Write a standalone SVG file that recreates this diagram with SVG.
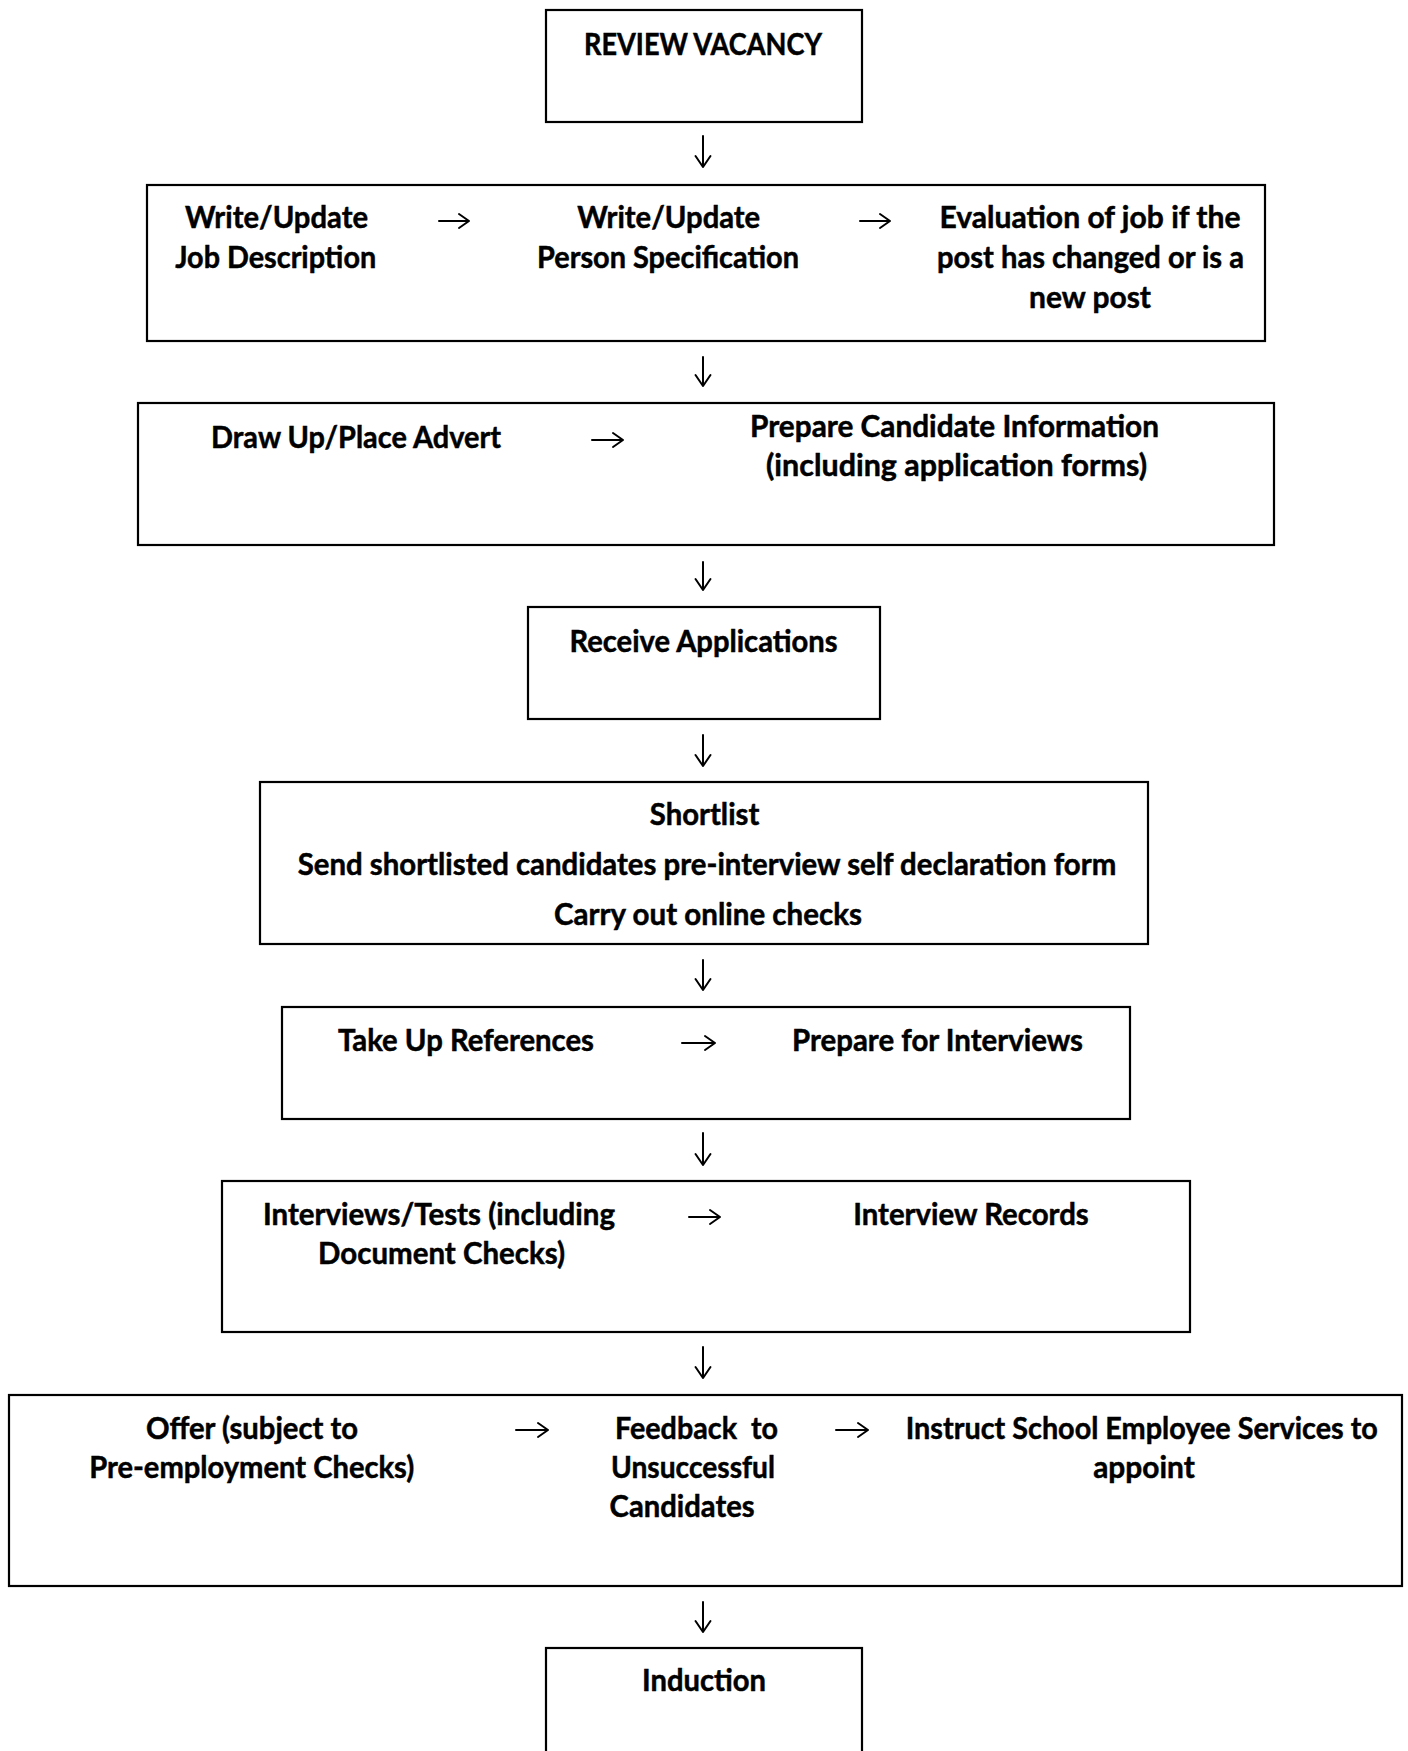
<svg xmlns="http://www.w3.org/2000/svg" width="1408" height="1751" viewBox="0 0 1408 1751">
<style>
.box{fill:#fff;stroke:#000;stroke-width:2.2}
.t{font-family:Lato,"Liberation Sans",sans-serif;font-weight:bold;font-size:31px;fill:#000;stroke:#000;stroke-width:0.5}
.c{text-anchor:middle}
.arr{fill:none;stroke:#000;stroke-width:2;stroke-linecap:round;stroke-linejoin:round}
</style>
<rect width="1408" height="1751" fill="#fff"/>
<g id="n1">
<rect class="box" x="546" y="10" width="316" height="112"/>
<text class="t c" x="703" y="55" textLength="238" lengthAdjust="spacingAndGlyphs">REVIEW VACANCY</text>
</g>
<g id="n2">
<rect class="box" x="147" y="185" width="1118" height="156"/>
<text class="t c" x="276.5" y="228.2" textLength="183" lengthAdjust="spacingAndGlyphs">Write/Update</text>
<text class="t c" x="275.7" y="268.4" textLength="201" lengthAdjust="spacingAndGlyphs">Job Description</text>
<text class="t c" x="668.7" y="228.2" textLength="183" lengthAdjust="spacingAndGlyphs">Write/Update</text>
<text class="t c" x="668" y="268.4" textLength="262" lengthAdjust="spacingAndGlyphs">Person Specification</text>
<text class="t c" x="1090" y="228.2" textLength="301" lengthAdjust="spacingAndGlyphs">Evaluation of job if the</text>
<text class="t c" x="1090.5" y="268.4" textLength="307" lengthAdjust="spacingAndGlyphs">post has changed or is a</text>
<text class="t c" x="1090" y="307.5" textLength="122" lengthAdjust="spacingAndGlyphs">new post</text>
</g>
<g id="n3">
<rect class="box" x="138" y="403" width="1136" height="142"/>
<text class="t c" x="356" y="448.1" textLength="290" lengthAdjust="spacingAndGlyphs">Draw Up/Place Advert</text>
<text class="t c" x="954.5" y="437" textLength="409" lengthAdjust="spacingAndGlyphs">Prepare Candidate Information</text>
<text class="t c" x="956.5" y="475.5" textLength="381" lengthAdjust="spacingAndGlyphs">(including application forms)</text>
</g>
<g id="n4">
<rect class="box" x="528" y="607" width="352" height="112"/>
<text class="t c" x="703.5" y="651.5" textLength="268" lengthAdjust="spacingAndGlyphs">Receive Applications</text>
</g>
<g id="n5">
<rect class="box" x="260" y="782" width="888" height="162"/>
<text class="t c" x="704.6" y="824.5" textLength="109.5" lengthAdjust="spacingAndGlyphs">Shortlist</text>
<text class="t c" x="707" y="874.5" textLength="818.5" lengthAdjust="spacingAndGlyphs">Send shortlisted candidates pre-interview self declaration form</text>
<text class="t c" x="708" y="924.9" textLength="308" lengthAdjust="spacingAndGlyphs">Carry out online checks</text>
</g>
<g id="n6">
<rect class="box" x="282" y="1007" width="848" height="112"/>
<text class="t c" x="466" y="1051.1" textLength="256" lengthAdjust="spacingAndGlyphs">Take Up References</text>
<text class="t c" x="937.5" y="1051.1" textLength="291" lengthAdjust="spacingAndGlyphs">Prepare for Interviews</text>
</g>
<g id="n7">
<rect class="box" x="222" y="1181" width="968" height="151"/>
<text class="t c" x="439" y="1225.3" textLength="352" lengthAdjust="spacingAndGlyphs">Interviews/Tests (including</text>
<text class="t c" x="441.6" y="1264.4" textLength="247" lengthAdjust="spacingAndGlyphs">Document Checks)</text>
<text class="t c" x="971" y="1225.3" textLength="235.6" lengthAdjust="spacingAndGlyphs">Interview Records</text>
</g>
<g id="n8">
<rect class="box" x="9" y="1395" width="1393" height="191"/>
<text class="t c" x="252" y="1438.5" textLength="212" lengthAdjust="spacingAndGlyphs">Offer (subject to</text>
<text class="t c" x="251.7" y="1477.5" textLength="325" lengthAdjust="spacingAndGlyphs">Pre-employment Checks)</text>
<text class="t" x="615" y="1438.5" xml:space="preserve" textLength="163" lengthAdjust="spacingAndGlyphs">Feedback  to</text>
<text class="t" x="611" y="1477.5" textLength="164" lengthAdjust="spacingAndGlyphs">Unsuccessful</text>
<text class="t" x="609.6" y="1516.5" textLength="145" lengthAdjust="spacingAndGlyphs">Candidates</text>
<text class="t c" x="1141.8" y="1438.5" textLength="472" lengthAdjust="spacingAndGlyphs">Instruct School Employee Services to</text>
<text class="t c" x="1144" y="1477.5" textLength="101.6" lengthAdjust="spacingAndGlyphs">appoint</text>
</g>
<g id="n9">
<rect class="box" x="546" y="1648" width="316" height="130"/>
<text class="t c" x="704" y="1690.9" textLength="124" lengthAdjust="spacingAndGlyphs">Induction</text>
</g>
<g id="connectors">
<path class="arr" d="M703,136V167M695.5,156L703,167L710.5,156"/>
<path class="arr" d="M703,357V386M695.5,375L703,386L710.5,375"/>
<path class="arr" d="M703,562V590M695.5,579L703,590L710.5,579"/>
<path class="arr" d="M703,735V766M695.5,755L703,766L710.5,755"/>
<path class="arr" d="M703,960V990M695.5,979L703,990L710.5,979"/>
<path class="arr" d="M703,1133V1165M695.5,1154L703,1165L710.5,1154"/>
<path class="arr" d="M703,1347V1378M695.5,1367L703,1378L710.5,1367"/>
<path class="arr" d="M703,1602V1632M695.5,1621L703,1632L710.5,1621"/>
<path class="arr" d="M439,221H469M459,214L469,221L459,228"/>
<path class="arr" d="M860,221H890M880,214L890,221L880,228"/>
<path class="arr" d="M592,440H623M613,433L623,440L613,447"/>
<path class="arr" d="M682,1043H715M705,1036L715,1043L705,1050"/>
<path class="arr" d="M689,1217H720M710,1210L720,1217L710,1224"/>
<path class="arr" d="M516,1430H548M538,1423L548,1430L538,1437"/>
<path class="arr" d="M836,1430H868M858,1423L868,1430L858,1437"/>
</g>
</svg>
